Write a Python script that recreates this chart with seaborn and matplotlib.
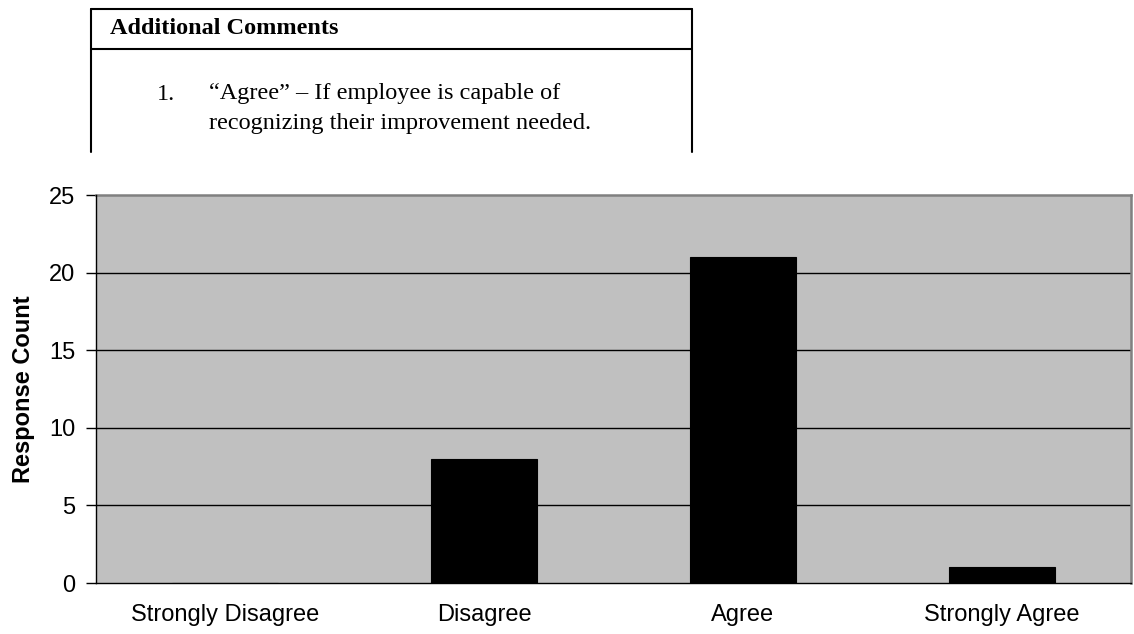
import numpy as np
import pandas as pd
import matplotlib
matplotlib.use("Agg")
import matplotlib.pyplot as plt
from matplotlib.lines import Line2D
import seaborn as sns

# values
categories = ["Strongly Disagree", "Disagree", "Agree", "Strongly Agree"]
counts = [0, 8, 21, 1]
y_ticks = [0, 5, 10, 15, 20, 25]

box_header = "Additional Comments"
box_lines = ["\u201cAgree\u201d \u2013 If employee is capable of",
             "recognizing their improvement needed."]

df = pd.DataFrame({"category": categories, "count": counts})

sns.set_theme(style="white", rc={"text.color": "black", "axes.labelcolor": "black",
                                 "xtick.color": "black", "ytick.color": "black"})
plt.rcParams["font.family"] = ["Liberation Sans", "DejaVu Sans"]

W, H = 1134, 634
fig = plt.figure(figsize=(W / 100, H / 100), dpi=100)
fig.patch.set_facecolor("white")

# axes placed in pixel terms
left, right, top, bottom = 96, 1131, 195, 583
ax = fig.add_axes([left / W, 1 - bottom / H, (right - left) / W, (bottom - top) / H])
ax.set_facecolor("#C0C0C0")

sns.barplot(data=df, x="category", y="count", color="black", edgecolor="black",
            width=0.41, linewidth=0.8, saturation=1, ax=ax, zorder=3)

ax.set_xlim(-0.5, len(categories) - 0.5)
ax.set_ylim(0, 25)
ax.set_yticks(y_ticks)
ax.set_yticklabels([str(v) for v in y_ticks], fontsize=17)
for v in y_ticks[1:-1]:
    ax.axhline(v, color="black", lw=1.0, zorder=1)

# category labels centred, tick marks at the boundaries
ax.set_xticks(np.arange(len(categories)))
ax.set_xticklabels(categories, fontsize=17)
ax.tick_params(axis="x", length=0, pad=15)
ax.set_xticks(np.arange(len(categories) + 1) - 0.5, minor=True)
ax.tick_params(axis="x", which="minor", length=7, width=1, color="black", direction="out")
ax.tick_params(axis="y", length=7, width=1, color="black", direction="out", pad=8, left=True)

ax.set_xlabel("")
ax.set_ylabel("Response Count", fontsize=17, fontweight="bold", labelpad=10)

for side in ["left", "bottom"]:
    ax.spines[side].set_color("black")
    ax.spines[side].set_linewidth(1.0)
for side in ["top", "right"]:
    ax.spines[side].set_color("#808080")
    ax.spines[side].set_linewidth(1.8)
ax.spines["left"].set_zorder(4)
ax.spines["bottom"].set_zorder(4)

# comment box above the chart
bx0, bx1, by0, by_head, by1 = 91, 692, 9, 49, 152
def px(x, y):
    return x / W, 1 - y / H
for (xa, ya), (xb, yb), in [((bx0, by0), (bx1, by0)), ((bx0, by_head), (bx1, by_head)),
                            ((bx0, by0), (bx0, by1)), ((bx1, by0), (bx1, by1))]:
    (fx0, fy0), (fx1, fy1) = px(xa, ya), px(xb, yb)
    fig.add_artist(Line2D([fx0, fx1], [fy0, fy1], color="black", lw=1.5,
                          transform=fig.transFigure))

serif = ["Liberation Serif", "DejaVu Serif"]
fig.text(*px(110, 29), box_header, family=serif, fontsize=17.5, fontweight="bold",
         va="center", ha="left")
fig.text(*px(157, 94), "1.", family=serif, fontsize=17.5, va="center", ha="left")
fig.text(*px(209, 94), box_lines[0], family=serif, fontsize=17.5, va="center", ha="left")
fig.text(*px(209, 124), box_lines[1], family=serif, fontsize=17.5, va="center", ha="left")

fig.savefig("out.png", dpi=100, facecolor="white")
